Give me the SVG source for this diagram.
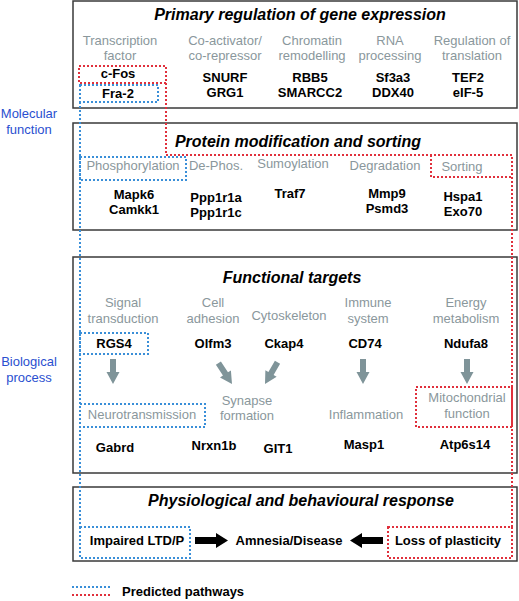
<svg xmlns="http://www.w3.org/2000/svg" width="519" height="601" viewBox="0 0 519 601">
<style>
text{font-family:"Liberation Sans",Arial,sans-serif;text-anchor:middle}
.ttl{font-size:16px;font-weight:bold;font-style:italic;fill:#000}
.cat{font-size:13px;fill:#8a979c}
.gene{font-size:13px;font-weight:bold;fill:#000}
.side{font-size:13px;fill:#2a4fd0}
.box{fill:#fff;stroke:#3a3a3a;stroke-width:1.5}
.blue{fill:none;stroke:#3a8fd8;stroke-width:2;stroke-dasharray:2 2}
.red{fill:none;stroke:#e0303c;stroke-width:2;stroke-dasharray:2 2}
.garrow{fill:#7f9499}
.barrow{fill:#000}
</style>
<defs>
<polygon id="ga" points="-3,-25 3,-25 3,-12 6.5,-12 0,0 -6.5,-12 -3,-12"/>
<polygon id="ba" points="-33,-3.5 -12,-3.5 -12,-7.5 0,0 -12,7.5 -12,3.5 -33,3.5"/>
</defs>
<rect width="519" height="601" fill="#fff"/>

<g id="box1">
<rect class="box" x="73" y="1" width="444" height="107"/>
<text class="ttl" x="300" y="20">Primary regulation of gene expression</text>
<text class="cat" x="120" y="45">Transcription</text><text class="cat" x="120" y="60">factor</text>
<text class="cat" x="225" y="45">Co-activator/</text><text class="cat" x="225" y="60">co-repressor</text>
<text class="cat" x="312" y="45">Chromatin</text><text class="cat" x="312" y="60">remodelling</text>
<text class="cat" x="390" y="45">RNA</text><text class="cat" x="390" y="60">processing</text>
<text class="cat" x="472" y="45">Regulation of</text><text class="cat" x="472" y="60">translation</text>
<text class="gene" x="118" y="78">c-Fos</text><text class="gene" x="118" y="98">Fra-2</text>
<text class="gene" x="225" y="82">SNURF</text><text class="gene" x="225" y="97">GRG1</text>
<text class="gene" x="310" y="82">RBB5</text><text class="gene" x="310" y="97">SMARCC2</text>
<text class="gene" x="393" y="82">Sf3a3</text><text class="gene" x="393" y="97">DDX40</text>
<text class="gene" x="468" y="82">TEF2</text><text class="gene" x="468" y="97">eIF-5</text>
</g>

<g id="box2">
<rect class="box" x="73" y="123" width="444" height="107"/>
<text class="ttl" x="298" y="147">Protein modification and sorting</text>
<text class="cat" x="133" y="170">Phosphorylation</text>
<text class="cat" x="216" y="170">De-Phos.</text>
<text class="cat" x="293" y="168">Sumoylation</text>
<text class="cat" x="385" y="170">Degradation</text>
<text class="cat" x="462" y="171">Sorting</text>
<text class="gene" x="134" y="199">Mapk6</text><text class="gene" x="134" y="214">Camkk1</text>
<text class="gene" x="216" y="202">Ppp1r1a</text><text class="gene" x="216" y="217">Ppp1r1c</text>
<text class="gene" x="290" y="198">Traf7</text>
<text class="gene" x="387" y="198">Mmp9</text><text class="gene" x="387" y="213">Psmd3</text>
<text class="gene" x="463" y="201">Hspa1</text><text class="gene" x="463" y="216">Exo70</text>
</g>

<g id="box3">
<rect class="box" x="73" y="257" width="444" height="216"/>
<text class="ttl" x="292" y="283">Functional targets</text>
<text class="cat" x="123" y="307">Signal</text><text class="cat" x="123" y="323">transduction</text>
<text class="cat" x="213" y="307">Cell</text><text class="cat" x="213" y="323">adhesion</text>
<text class="cat" x="289" y="320">Cytoskeleton</text>
<text class="cat" x="368" y="307">Immune</text><text class="cat" x="368" y="323">system</text>
<text class="cat" x="466" y="307">Energy</text><text class="cat" x="466" y="323">metabolism</text>
<text class="gene" x="114" y="348">RGS4</text>
<text class="gene" x="213" y="348">Olfm3</text>
<text class="gene" x="284" y="348">Ckap4</text>
<text class="gene" x="365" y="348">CD74</text>
<text class="gene" x="466" y="348">Ndufa8</text>
<text class="cat" x="142" y="419">Neurotransmission</text>
<text class="cat" x="247" y="405">Synapse</text><text class="cat" x="247" y="420">formation</text>
<text class="cat" x="366" y="419">Inflammation</text>
<text class="cat" x="467" y="402">Mitochondrial</text><text class="cat" x="467" y="418">function</text>
<text class="gene" x="115" y="452">Gabrd</text>
<text class="gene" x="214" y="450">Nrxn1b</text>
<text class="gene" x="278" y="453">GIT1</text>
<text class="gene" x="364" y="449">Masp1</text>
<text class="gene" x="465" y="449">Atp6s14</text>
</g>

<g id="box4">
<rect class="box" x="73" y="487" width="444" height="74"/>
<text class="ttl" x="301" y="506">Physiological and behavioural response</text>
<text class="gene" x="137" y="545">Impaired LTD/P</text>
<text class="gene" x="289" y="545">Amnesia/Disease</text>
<text class="gene" x="448" y="545">Loss of plasticity</text>
</g>

<g id="side-labels">
<text class="side" x="29" y="118">Molecular</text><text class="side" x="29" y="134">function</text>
<text class="side" x="29" y="366">Biological</text><text class="side" x="29" y="382">process</text>
</g>

<g id="connectors">
<use href="#ga" class="garrow" transform="translate(113,384)"/>
<use href="#ga" class="garrow" transform="translate(232,384) rotate(-33)"/>
<use href="#ga" class="garrow" transform="translate(265,384) rotate(30)"/>
<use href="#ga" class="garrow" transform="translate(363,384)"/>
<use href="#ga" class="garrow" transform="translate(467,384)"/>
<use href="#ba" class="barrow" transform="translate(228,540.5)"/>
<use href="#ba" class="barrow" transform="translate(350,540.5) scale(-1,1)"/>
</g>

<g id="pathways">
<rect class="red" x="79" y="66" width="87" height="17"/>
<path class="red" d="M166,83 V155 H512 V527"/>
<path class="red" d="M431,155 V177 H512"/>
<rect class="red" x="416" y="387" width="96" height="40"/>
<rect class="red" x="388" y="527" width="124" height="31"/>
<rect class="blue" x="80" y="85" width="78" height="17"/>
<path class="blue" d="M80,102 V527"/>
<rect class="blue" x="80" y="157" width="106" height="23"/>
<rect class="blue" x="80" y="333" width="68" height="21"/>
<rect class="blue" x="80" y="404" width="125" height="23"/>
<rect class="blue" x="80" y="527" width="110" height="31"/>
</g>

<g id="legend">
<path class="blue" d="M72,587 H110"/>
<path class="red" d="M72,595 H110"/>
<text class="gene" x="122" y="596" style="text-anchor:start">Predicted pathways</text>
</g>
</svg>
